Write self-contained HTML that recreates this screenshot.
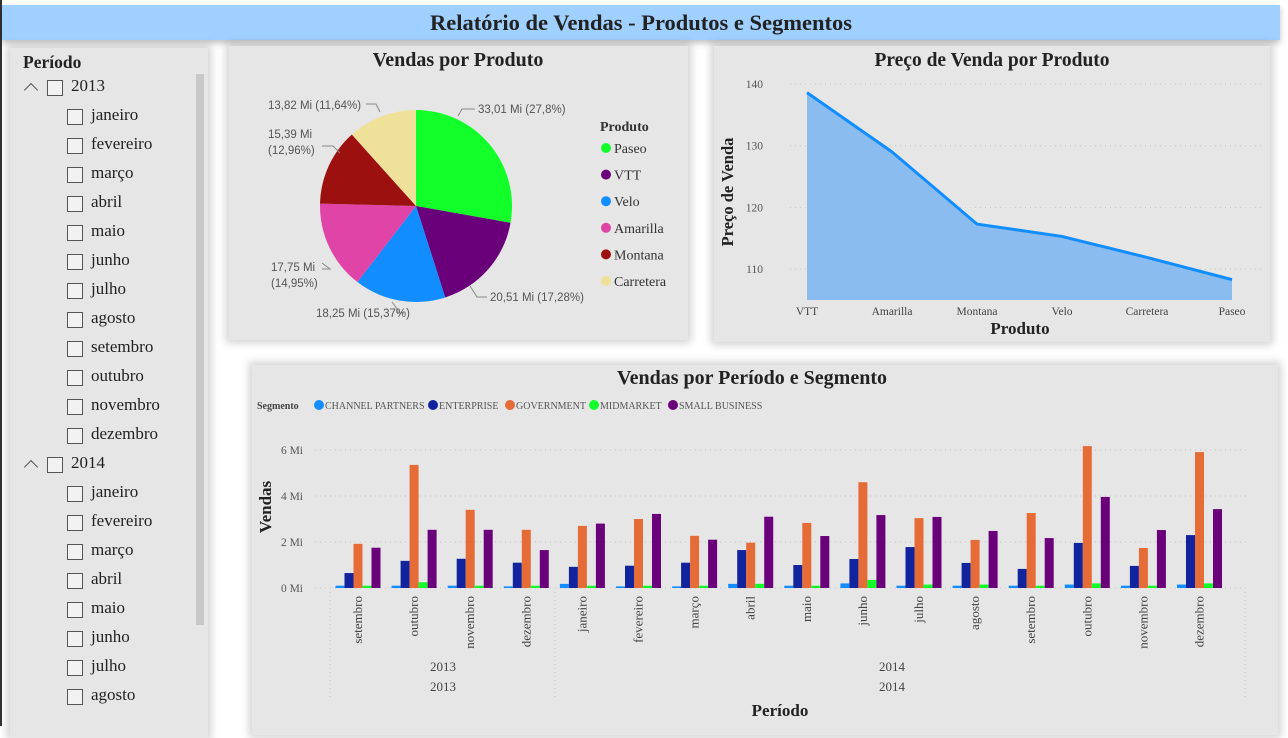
<!DOCTYPE html>
<html><head><meta charset="utf-8">
<style>
body{margin:0;width:1288px;height:726px;overflow:hidden;background:#fff;font-family:"Liberation Serif",serif;position:relative}
.abs{position:absolute}
.panel{position:absolute;background:#e6e6e6;box-shadow:0 0 8px 3px rgba(0,0,0,0.18)}
.cb{position:absolute;width:14px;height:14px;border:1px solid #555;background:#f2f2f2}
.it{position:absolute;font-size:17px;color:#222}
.chev{position:absolute;width:9px;height:9px;border-left:1.3px solid #555;border-top:1.3px solid #555;transform:rotate(45deg)}
</style></head><body>
<div class="abs" style="left:0;top:0;width:2px;height:726px;background:#333"></div>
<div class="abs" style="left:2px;top:5px;width:1278px;height:35px;background:#a0d0ff;box-shadow:0 3px 6px rgba(0,0,0,0.25)">
<div style="text-align:center;font-weight:bold;font-size:22.5px;line-height:35px;color:#222">Relatório de Vendas - Produtos e Segmentos</div></div>

<div class="panel" style="left:10px;top:48px;width:198px;height:690px">
<div class="abs" style="left:13px;top:4px;font-weight:bold;font-size:17.5px;color:#222">Período</div>
<div class="abs" style="left:186px;top:26px;width:8px;height:551px;background:#c8c8c8"></div>
<div id="slicer"></div>
</div>

<div class="panel" style="left:229px;top:46px;width:459px;height:294px"></div>
<div class="panel" style="left:714px;top:46px;width:556px;height:296px"></div>
<div class="panel" style="left:252px;top:365px;width:1026px;height:370px"></div>

<svg id="svg" class="abs" style="left:0;top:0" width="1288" height="726"></svg>

<script>
const months=["janeiro","fevereiro","março","abril","maio","junho","julho","agosto","setembro","outubro","novembro","dezembro"];
const sl=document.getElementById('slicer');
function addYear(y,top){
 const d=document.createElement('div');
 
 
 d.innerHTML='<div class="chev" style="left:16px;top:'+(top-3)+'px"></div><div class="cb" style="left:37px;top:'+(top-8)+'px"></div><div class="it" style="left:61px;top:'+(top-12)+'px">'+y+'</div>';
 sl.appendChild(d);
}
function addMonth(m,top){
 const d=document.createElement('div');
 
 
 d.innerHTML='<div class="cb" style="left:57px;top:'+(top-8)+'px"></div><div class="it" style="left:81px;top:'+(top-12)+'px">'+m+'</div>';
 sl.appendChild(d);
}
addYear(2013,40);
months.forEach((m,i)=>addMonth(m,69+i*29));
addYear(2014,417);
months.slice(0,8).forEach((m,i)=>addMonth(m,446+i*29));

const NS="http://www.w3.org/2000/svg";
const svg=document.getElementById('svg');
function el(t,a,txt){const e=document.createElementNS(NS,t);for(const k in a)e.setAttribute(k,a[k]);if(txt!==undefined)e.textContent=txt;svg.appendChild(e);return e;}

// ---------- PIE ----------
const pieProducts=["Paseo","VTT","Velo","Amarilla","Montana","Carretera"];
const pieValues=[33.01,20.51,18.25,17.75,15.39,13.82];
const pieColors=["#12ff2a","#6a0079","#118dff","#e044a7","#9c1010","#f0e19a"];
let t=el('text',{x:458,y:66,'text-anchor':'middle','font-size':20,'font-weight':'bold',fill:'#222'},'Vendas por Produto');

const cx=416,cy=206,R=96;
const tot=pieValues.reduce((a,b)=>a+b,0);
let ang=0;
pieValues.forEach((v,i)=>{
 const a0=ang,a1=ang+v/tot*2*Math.PI;ang=a1;
 const x0=cx+R*Math.sin(a0),y0=cy-R*Math.cos(a0),x1=cx+R*Math.sin(a1),y1=cy-R*Math.cos(a1);
 const p=el('path',{d:`M${cx},${cy}L${x0},${y0}A${R},${R} 0 ${a1-a0>Math.PI?1:0} 1 ${x1},${y1}Z`,fill:pieColors[i]});
 
 
});
const pieLabels=[
 {t:["33,01 Mi (27,8%)"],x:478,y:113,l:"M458,116L462,109L475,109"},
 {t:["20,51 Mi (17,28%)"],x:490,y:301,l:"M470,286L477,297L487,297"},
 {t:["18,25 Mi (15,37%)"],x:316,y:317,l:"M392,302L398,310L398,313L404,313"},
 {t:["17,75 Mi","(14,95%)"],x:271,y:271,l:"M322,263L330,269L322,269"},
 {t:["15,39 Mi","(12,96%)"],x:268,y:138,l:"M322,146L333,146L340,153"},
 {t:["13,82 Mi (11,64%)"],x:268,y:109,l:"M366,104L376,104L380,112"}
];
pieLabels.forEach((L,i)=>{
 el('path',{d:L.l,fill:'none',stroke:'#888','stroke-width':1});
 L.t.forEach((s,j)=>{const tx=el('text',{x:L.x,y:L.y+j*16,'font-size':11.5,fill:'#555','font-family':'Liberation Sans, sans-serif'},s);
 });
});
t=el('text',{x:600,y:131,'font-size':14,'font-weight':'bold',fill:'#333'},'Produto');

pieProducts.forEach((p,i)=>{
 const y=148+i*26.6;
 const c=el('circle',{cx:606,cy:y,r:5,fill:pieColors[i]});
 
 const tx=el('text',{x:614,y:y+5,'font-size':14,fill:'#333'},p);
 
});

// ---------- LINE ----------
const lineCats=["VTT","Amarilla","Montana","Velo","Carretera","Paseo"];
const lineValues=[138.6,129.0,117.3,115.3,111.9,108.3];
const lineTicks=[110,120,130,140];
t=el('text',{x:992,y:66,'text-anchor':'middle','font-size':19.5,'font-weight':'bold',fill:'#222'},'Preço de Venda por Produto');

const ly=v=>300-(v-105)*(216/35);
const lx=i=>807+i*85;
lineTicks.forEach(v=>{
 el('line',{x1:790,x2:1262,y1:ly(v),y2:ly(v),stroke:'#c4c4c4','stroke-dasharray':'1 4'});
 const tx=el('text',{x:763,y:ly(v)+4,'text-anchor':'end','font-size':11.5,fill:'#555'},v);
 
});
let ap=`M${lx(0)},300`;lineValues.forEach((v,i)=>ap+=`L${lx(i)},${ly(v)}`);ap+=`L${lx(lineValues.length-1)},300Z`;
let ar=el('path',{d:ap,fill:'#8bbcef'});
let lp=lineValues.map((v,i)=>(i?'L':'M')+lx(i)+','+ly(v)).join('');
let ln=el('path',{d:lp,fill:'none',stroke:'#118dff','stroke-width':3});
lineCats.forEach((c,i)=>{const tx=el('text',{x:lx(i),y:315,'text-anchor':'middle','font-size':11.5,fill:'#444'},c);
 });
t=el('text',{x:1020,y:334,'text-anchor':'middle','font-size':17,'font-weight':'bold',fill:'#222'},'Produto');

t=el('text',{x:0,y:0,'text-anchor':'middle','font-size':16.5,'font-weight':'bold',fill:'#222',transform:'translate(733,192) rotate(-90)'},'Preço de Venda');


// ---------- BARS ----------
const barMonths=["setembro","outubro","novembro","dezembro","janeiro","fevereiro","março","abril","maio","junho","julho","agosto","setembro","outubro","novembro","dezembro"];
const segments=["CHANNEL PARTNERS","ENTERPRISE","GOVERNMENT","MIDMARKET","SMALL BUSINESS"];
const segColors=["#118dff","#12239e","#e66c37","#12ff2a","#6b007b"];
const cp=[0.1,0.1,0.1,0.07,0.18,0.07,0.07,0.18,0.1,0.2,0.1,0.1,0.1,0.15,0.1,0.15];
const ent=[0.65,1.18,1.27,1.1,0.92,0.97,1.1,1.65,1.0,1.26,1.78,1.09,0.83,1.96,0.96,2.3];
const gov=[1.92,5.35,3.4,2.53,2.7,3.0,2.27,1.97,2.83,4.6,3.04,2.09,3.26,6.17,1.74,5.91];
const mid=[0.1,0.25,0.1,0.1,0.1,0.1,0.1,0.18,0.1,0.35,0.15,0.15,0.1,0.2,0.1,0.2];
const sb=[1.75,2.53,2.53,1.65,2.8,3.22,2.1,3.1,2.26,3.17,3.09,2.48,2.17,3.96,2.52,3.43];
const barTicks=[0,2,4,6];
const series=[cp,ent,gov,mid,sb];
t=el('text',{x:752,y:384,'text-anchor':'middle','font-size':20,'font-weight':'bold',fill:'#222'},'Vendas por Período e Segmento');

t=el('text',{x:257,y:409,'font-size':10,'font-weight':'bold',fill:'#444'},'Segmento');

const legX=[319,433,510,594,673];
segments.forEach((s,i)=>{
 const c=el('circle',{cx:legX[i],cy:405,r:5,fill:segColors[i]});
 const tx=el('text',{x:legX[i]+6,y:409,'font-size':10,fill:'#555'},s);
});
const by=v=>588-v*23;
const bx=i=>358+i*56.1;
barTicks.forEach(v=>{
 el('line',{x1:315,x2:1250,y1:by(v),y2:by(v),stroke:'#c4c4c4','stroke-dasharray':'1 4'});
 const tx=el('text',{x:303,y:by(v)+4,'text-anchor':'end','font-size':11.5,fill:'#555'},v+' Mi');
 
});
[330,555,1245].forEach(x=>el('line',{x1:x,x2:x,y1:592,y2:700,stroke:'#c4c4c4','stroke-dasharray':'1 3'}));
barMonths.forEach((m,i)=>{
 series.forEach((arr,s)=>{
  const r=el('rect',{x:bx(i)-22.5+s*9,y:by(arr[i]),width:9,height:arr[i]*23,fill:segColors[s]});
  
  
 });
 const tx=el('text',{x:0,y:0,'text-anchor':'end','font-size':13,fill:'#444',transform:`translate(${bx(i)+4},596) rotate(-90)`},m);
 
});
[[443,"2013"],[892,"2014"]].forEach(([x,y])=>{[671,691].forEach(yy=>{const tx=el('text',{x:x,y:yy,'text-anchor':'middle','font-size':13,fill:'#444'},y);
 });});
t=el('text',{x:780,y:716,'text-anchor':'middle','font-size':17,'font-weight':'bold',fill:'#222'},'Período');

t=el('text',{x:0,y:0,'text-anchor':'middle','font-size':17,'font-weight':'bold',fill:'#222',transform:'translate(271,507) rotate(-90)'},'Vendas');

</script>
</body></html>
